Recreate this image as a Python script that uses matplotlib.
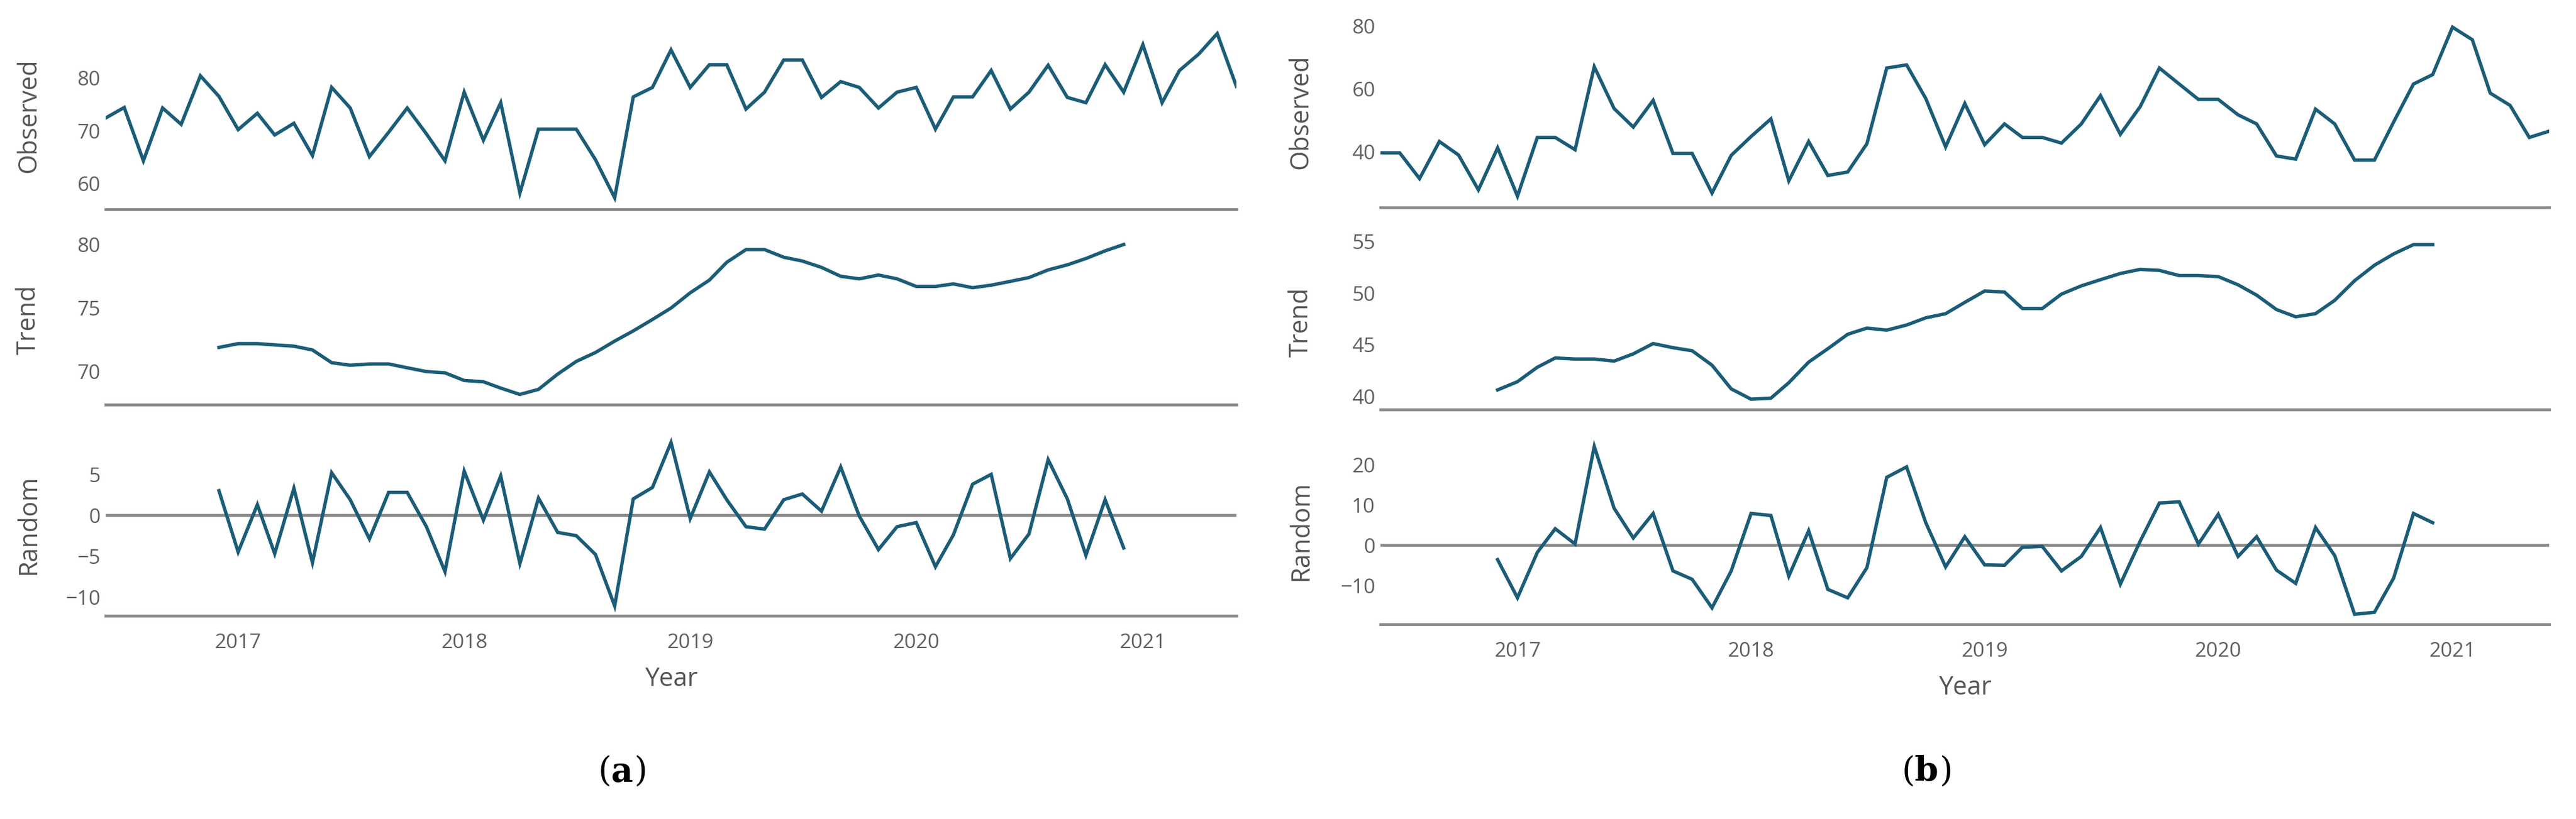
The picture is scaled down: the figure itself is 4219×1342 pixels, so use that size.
import matplotlib
matplotlib.use('Agg')
import matplotlib.pyplot as plt
import matplotlib.dates as mdates
import numpy as np
import pandas as pd

plt.rcParams['font.family'] = ['Open Sans', 'DejaVu Sans']

# monthly dates, June 2016 .. June 2021
dates = pd.date_range('2016-06-01', periods=61, freq='MS')
dates_mid = dates[6:55]  # Dec 2016 .. Dec 2020 (moving average window)

obs_a = [72.4, 74.4, 64.3, 74.3, 71.2, 80.4, 76.5, 70.2, 73.3, 69.2, 71.4, 65.3, 78.2, 74.3,
         65.1, 69.7, 74.3, 69.4, 64.3, 77.3, 68.2, 75.3, 58.2, 70.3, 70.3, 70.3, 64.5, 57.3,
         76.4, 78.2, 85.3, 78.2, 82.5, 82.5, 74.1, 77.3, 83.4, 83.4, 76.3, 79.3, 78.2, 74.3,
         77.3, 78.2, 70.3, 76.4, 76.4, 81.4, 74.1, 77.3, 82.4, 76.3, 75.3, 82.5, 77.3, 86.3,
         75.3, 81.4, 84.5, 88.4, 78.4]
trend_a = [71.9, 72.2, 72.2, 72.1, 72.0, 71.7, 70.7, 70.5, 70.6, 70.6, 70.3, 70.0, 69.9, 69.3,
           69.2, 68.7, 68.2, 68.6, 69.8, 70.8, 71.5, 72.4, 73.2, 74.1, 75.0, 76.2, 77.2, 78.6,
           79.6, 79.6, 79.0, 78.7, 78.2, 77.5, 77.3, 77.6, 77.3, 76.7, 76.7, 76.9, 76.6, 76.8,
           77.1, 77.4, 78.0, 78.4, 78.9, 79.5, 80.0]
rand_a = [3.0, -4.5, 1.3, -4.7, 3.3, -5.8, 5.2, 1.9, -2.9, 2.8, 2.8, -1.4, -6.9, 5.4, -0.6,
          4.8, -5.9, 2.1, -2.1, -2.5, -4.8, -11.1, 2.0, 3.4, 8.9, -0.4, 5.3, 1.9, -1.4, -1.7,
          1.9, 2.6, 0.5, 5.9, -0.1, -4.2, -1.4, -0.9, -6.3, -2.4, 3.8, 5.0, -5.3, -2.3, 6.8,
          2.0, -4.9, 1.9, -4.0]

obs_b = [39.7, 39.7, 31.5, 43.3, 39.0, 27.9, 41.3, 25.9, 44.6, 44.6, 40.7, 67.1, 53.8, 47.9,
         56.4, 39.5, 39.5, 26.9, 38.9, 44.9, 50.5, 30.8, 43.3, 32.5, 33.6, 42.6, 66.7, 67.7,
         57.0, 41.6, 55.4, 42.3, 48.9, 44.6, 44.6, 42.8, 48.9, 57.9, 45.6, 54.4, 66.7, 61.6,
         56.7, 56.7, 51.8, 48.9, 38.7, 37.7, 53.6, 48.9, 37.4, 37.4, 49.5, 61.6, 64.6, 79.7,
         75.7, 58.7, 54.8, 44.6, 46.6]
trend_b = [40.6, 41.4, 42.8, 43.7, 43.6, 43.6, 43.4, 44.1, 45.1, 44.7, 44.4, 43.0, 40.7, 39.7,
           39.8, 41.3, 43.3, 44.6, 46.0, 46.6, 46.4, 46.9, 47.6, 48.0, 49.1, 50.2, 50.1, 48.5,
           48.5, 49.9, 50.7, 51.3, 51.9, 52.3, 52.2, 51.7, 51.7, 51.6, 50.8, 49.8, 48.4, 47.7,
           48.0, 49.3, 51.2, 52.7, 53.8, 54.7, 54.7]
rand_b = [-3.6, -13.1, -1.8, 4.1, 0.3, 24.6, 9.2, 1.8, 7.9, -6.4, -8.5, -15.6, -6.4, 7.9, 7.4,
          -7.7, 3.6, -11.0, -13.1, -5.6, 16.9, 19.5, 5.6, -5.4, 2.1, -4.9, -5.0, -0.5, -0.3,
          -6.4, -2.8, 4.4, -9.7, 1.0, 10.5, 10.8, 0.3, 7.7, -2.8, 2.1, -6.2, -9.5, 4.4, -2.6,
          -17.2, -16.7, -8.2, 7.9, 5.6]

row_names = ['Observed', 'Trend', 'Random']
ticks_a = [[60, 70, 80], [70, 75, 80], [-10, -5, 0, 5]]
ticks_b = [[40, 60, 80], [40, 45, 50, 55], [-10, 0, 10, 20]]

W, H = 4219, 1342
LINE = '#1b5c77'
GRID = '#8a8a8a'
TXT = '#5f5f5f'

fig = plt.figure(figsize=(W / 200, H / 200), dpi=200)


def px_axes(x0, x1, ytop, ybot):
    return fig.add_axes([x0 / W, 1 - ybot / H, (x1 - x0) / W, (ybot - ytop) / H])


def panel(x0, x1, rows, series, yticks, ylims):
    axes = []
    for k, (ytop, ybot) in enumerate(rows):
        ax = px_axes(x0, x1, ytop, ybot)
        xs = dates if k == 0 else dates_mid
        ax.plot(xs, series[k], color=LINE, lw=2.0, solid_joinstyle='miter', zorder=3)
        if k == 2:
            ax.axhline(0, color=GRID, lw=1.7, zorder=2)
        ax.set_xlim(dates[0], dates[-1])
        ax.set_ylim(*ylims[k])
        ax.set_yticks(yticks[k])
        for s in ['top', 'right', 'left']:
            ax.spines[s].set_visible(False)
        ax.spines['bottom'].set_color(GRID)
        ax.spines['bottom'].set_linewidth(1.7)
        ax.tick_params(length=0, labelsize=12, labelcolor=TXT, pad=3)
        ax.xaxis.set_major_locator(mdates.YearLocator())
        ax.xaxis.set_major_formatter(mdates.DateFormatter('%Y'))
        if k < 2:
            ax.tick_params(axis='x', labelbottom=False)
        else:
            ax.tick_params(axis='x', pad=10)
            ax.set_xlabel('Year', fontsize=15, color='#555555', labelpad=8)
        ax.text(-0.068, 0.5, row_names[k], transform=ax.transAxes, rotation=90,
                ha='center', va='center', fontsize=15, color='#555555')
        ax.patch.set_alpha(0)
        axes.append(ax)
    return axes


panel(173, 2025, [(36, 343), (384, 663), (709, 1009)],
      [obs_a, trend_a, rand_a], ticks_a,
      [(55.1, 90.6), (67.4, 80.8), (-12.3, 10.1)])
panel(2261, 4175, [(26, 340), (384, 671), (715, 1023)],
      [obs_b, trend_b, rand_b], ticks_b,
      [(22.3, 83.3), (38.7, 55.7), (-19.7, 27.1)])

# sub-figure captions: (a) and (b), letter in bold
for cx, letter in [(1022, 'a'), (3157, 'b')]:
    t1 = fig.text(cx / W - 0.005, 1 - 1265 / H, '(', fontsize=20, family='DejaVu Serif',
                  ha='right', va='center')
    t2 = fig.text(cx / W - 0.005, 1 - 1265 / H, letter, fontsize=20, family='DejaVu Serif',
                  fontweight='bold', ha='left', va='center')
    fig.canvas.draw()
    bb = t2.get_window_extent()
    fig.text((bb.x1 + 1) / fig.bbox.width, 1 - 1265 / H, ')', fontsize=20,
             family='DejaVu Serif', ha='left', va='center')

fig.savefig('out.png', dpi=200, facecolor='white')
